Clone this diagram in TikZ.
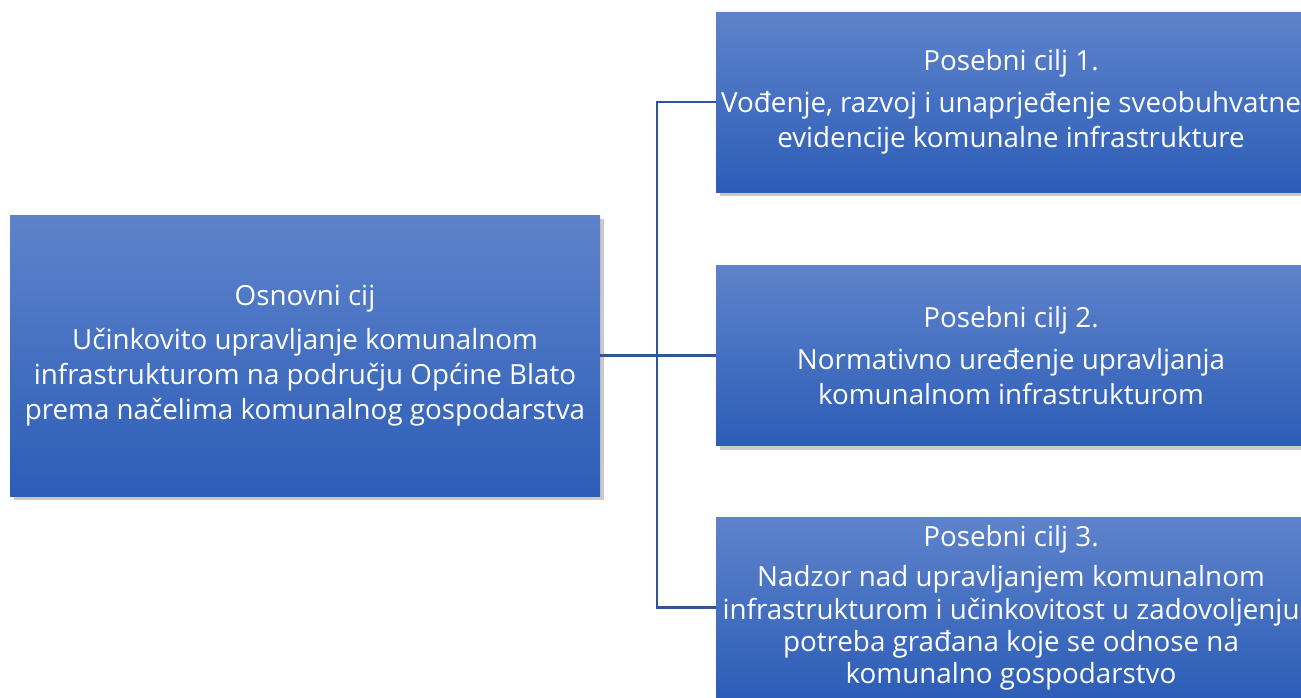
\documentclass[tikz,border=0pt]{standalone}
\usepackage{fontspec}
\setmainfont{Open Sans}
\usetikzlibrary{shadows}
\definecolor{boxtop}{RGB}{94,131,203}
\definecolor{boxbot}{RGB}{44,93,183}
\definecolor{linie}{RGB}{47,85,151}
\tikzset{
  ziel/.style={rectangle, top color=boxtop, bottom color=boxbot, text=white,
    align=center, inner sep=0pt, font=\fontsize{15.8}{20}\selectfont,
    drop shadow={shadow xshift=2.5pt, shadow yshift=-2.5pt, fill=black!60, opacity=.35}},
  verb/.style={draw=linie, line width=1.2pt}
}
\begin{document}
\begin{tikzpicture}
			\clip (0,0) rectangle (26.02,-13.94);
			\fill[white] (0,0) rectangle (26.02,-13.94);

			\node[ziel, minimum width=11.8cm, minimum height=5.62cm] (osnovni) at (6.1,-7.11)
				{Osnovni cij\\[5pt]Učinkovito upravljanje komunalnom\\infrastrukturom na području Općine Blato\\prema načelima komunalnog gospodarstva};
			\node[ziel, minimum width=11.8cm, minimum height=3.6cm] (cilj1) at (20.22,-2.04)
				{Posebni cilj 1.\\[4pt]Vođenje, razvoj i unaprjeđenje sveobuhvatne\\evidencije komunalne infrastrukture};
			\node[ziel, minimum width=11.8cm, minimum height=3.6cm] (cilj2) at (20.22,-7.11)
				{Posebni cilj 2.\\[4pt]Normativno uređenje upravljanja\\komunalnom infrastrukturom};
			\node[ziel, minimum width=11.8cm, minimum height=3.6cm, font=\fontsize{15.8}{18.3}\selectfont] (cilj3) at (20.22,-12.15)
				{Posebni cilj 3.\\[5pt]Nadzor nad upravljanjem komunalnom\\infrastrukturom i učinkovitost u zadovoljenju\\potreba građana koje se odnose na\\komunalno gospodarstvo};

			\coordinate (knot) at (13.14,-7.11);
			\draw[verb] (osnovni.east) -- (knot);
			\draw[verb] (knot) |- (cilj1.west);
			\draw[verb] (knot) -- (cilj2.west);
			\draw[verb] (knot) |- (cilj3.west);
		\end{tikzpicture}
\end{document}
